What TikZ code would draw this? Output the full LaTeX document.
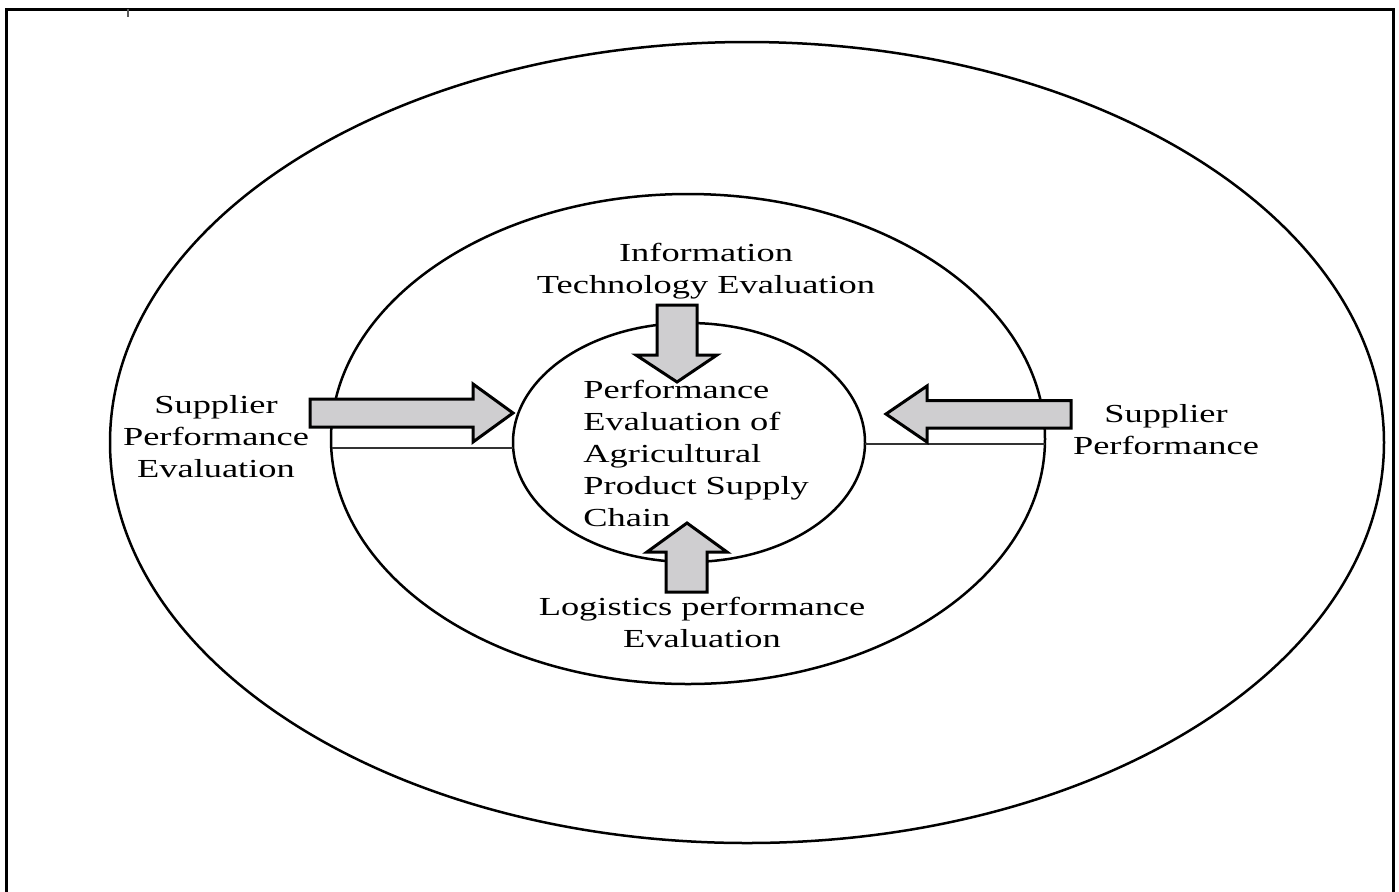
\documentclass[tikz,border=0pt]{standalone}
\usepackage{fontspec}
\newfontfamily\lblfont{Liberation Serif}[FakeStretch=1.4]
\definecolor{arrowgray}{RGB}{207,206,208}
\begin{document}
\begin{tikzpicture}[x=0.5pt,y=-0.5pt,
  lbl/.style={font=\lblfont\fontsize{13pt}{16pt}\selectfont, align=center, inner sep=0pt},
  ring/.style={line width=1.25pt},
  blockarrow/.style={line width=1.5pt, fill=arrowgray, line join=miter},
  thin/.style={line width=0.7pt, draw=black!80}]
\useasboundingbox (0,0) rectangle (1399,891);
% frame
\draw[line width=1.5pt] (6,1000) -- (6,9) -- (1393,9) -- (1393,1000);
\draw[line width=1.1pt, black!65] (128,9) -- (128,17);
% ellipses
\draw[ring] (747,442.5) ellipse [x radius=318.5pt, y radius=200.25pt];
\draw[ring] (688,439) ellipse [x radius=178.5pt, y radius=122.5pt];
\draw[ring] (689,442.5) ellipse [x radius=88pt, y radius=59.75pt];
% thin lines
\coordinate (lmid) at (332,448);
\coordinate (linn) at (513,448);
\coordinate (rinn) at (865,444);
\coordinate (rmid) at (1045,444);
\draw[thin] (lmid) -- (linn);
\draw[thin] (rinn) -- (rmid);
% block arrows
\draw[blockarrow] (310,399) -- (473,399) -- (473,384) -- (513,413) -- (473,442) -- (473,427) -- (310,427) -- cycle;
\draw[blockarrow] (1071,400.5) -- (927,400.5) -- (927,386) -- (886,414) -- (927,442) -- (927,428) -- (1071,428) -- cycle;
\draw[blockarrow] (657,305) -- (697,305) -- (697,355) -- (717,355) -- (677,382) -- (636,355) -- (657,355) -- cycle;
\draw[blockarrow] (666,592) -- (707,592) -- (707,552) -- (727,552) -- (687,523) -- (647,552) -- (666,552) -- cycle;
% labels
\node[lbl] (top) at (706,271) {Information\\Technology Evaluation};
\node[lbl] (left) at (216,437) {Supplier\\Performance\\Evaluation};
\node[lbl] (right) at (1166,430) {Supplier\\Performance};
\node[lbl, align=left, anchor=west] (center) at (583,453) {Performance\\Evaluation of\\Agricultural\\Product Supply\\Chain};
\node[lbl] (bottom) at (702,622) {Logistics performance\\Evaluation};
\end{tikzpicture}
\end{document}
